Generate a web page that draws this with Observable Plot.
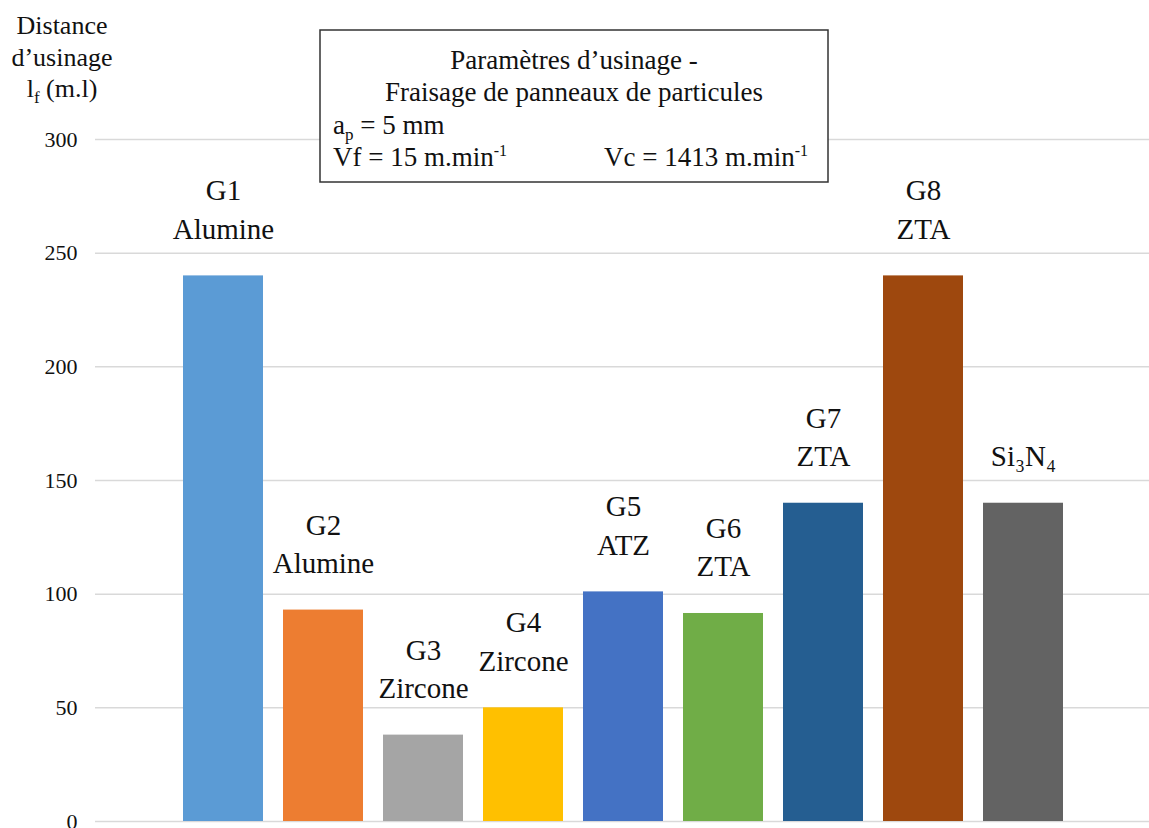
<!DOCTYPE html>
<html>
<head>
<meta charset="utf-8">
<script src="https://cdn.jsdelivr.net/npm/d3@7"></script>
<script src="https://cdn.jsdelivr.net/npm/@observablehq/plot@0.6"></script>
<style>
  html, body { margin: 0; padding: 0; background: #fff; }
  #chart svg { display: block; }
  #chart svg, #chart svg text { font-family: "Liberation Serif", "Times New Roman", serif !important; }
</style>
</head>
<body>
<div id="chart"></div>
<script>
const groups = ["G1", "G2", "G3", "G4", "G5", "G6", "G7", "G8", "Si3N4"];
const materials = ["Alumine", "Alumine", "Zircone", "Zircone", "ATZ", "ZTA", "ZTA", "ZTA", ""];
const distances = [240, 93, 38, 50, 101, 91.5, 140, 240, 140];
const colors = ["#5b9bd5", "#ed7d31", "#a5a5a5", "#ffc000", "#4472c4", "#70ad47", "#255e91", "#9e480e", "#636363"];
const yTicks = [0, 50, 100, 150, 200, 250, 300];
const displayNames = ["G1", "G2", "G3", "G4", "G5", "G6", "G7", "G8", "Si\u2083N\u2084"];

const data = groups.map((g, i) => ({
  group: g,
  value: distances[i],
  color: colors[i],
  label: materials[i] ? displayNames[i] + "\n" + materials[i] : displayNames[i]
}));

const svg = Plot.plot({
  width: 1149,
  height: 828,
  marginLeft: 95,
  marginRight: 0,
  marginTop: 0,
  marginBottom: 7,
  style: { background: "#fff", color: "#111" },
  x: { domain: groups, range: [169.6, 1076.4], paddingInner: 0.2, paddingOuter: 0.1, axis: null },
  y: { domain: [0, 300], range: [821, 139], axis: null },
  marks: [
    Plot.gridY(yTicks, { stroke: "#d9d9d9", strokeOpacity: 1, strokeWidth: 1.5 }),
    Plot.barY(data, { x: "group", y: "value", fill: "color" }),
    Plot.axisY(yTicks, { label: null, tickSize: 0, tickPadding: 18, fontSize: 22, textAnchor: "end", fill: "#111", tickFormat: d => String(d) }),
    Plot.text(data, {
      x: "group", y: "value", text: "label",
      lineAnchor: "bottom", dy: -37, lineHeight: 1.33,
      fontSize: 29, fill: "#111"
    })
  ]
});

document.getElementById("chart").appendChild(svg);

// Annotations with sub/superscripts
const s = d3.select(svg);

// Y axis title
const title = s.append("g").attr("font-size", 26).attr("fill", "#111").attr("text-anchor", "middle");
title.append("text").attr("x", 62).attr("y", 34).attr("text-anchor", "middle").text("Distance");
title.append("text").attr("x", 62).attr("y", 66).attr("text-anchor", "middle").text("d\u2019usinage");
const t3 = title.append("text").attr("x", 62).attr("y", 97).attr("text-anchor", "middle");
t3.append("tspan").text("l");
t3.append("tspan").attr("font-size", 17).attr("dy", 6).text("f");
t3.append("tspan").attr("dy", -6).text(" (m.l)");

// Parameters box
const box = s.append("g").attr("font-size", 27).attr("fill", "#111");
box.append("rect").attr("x", 320).attr("y", 30).attr("width", 508).attr("height", 152)
  .attr("fill", "#fff").attr("stroke", "#333").attr("stroke-width", 1.5);
box.append("text").attr("x", 574).attr("y", 69).attr("text-anchor", "middle").text("Param\u00e8tres d\u2019usinage -");
box.append("text").attr("x", 574).attr("y", 101).attr("text-anchor", "middle").text("Fraisage de panneaux de particules");
const ap = box.append("text").attr("x", 333).attr("y", 134).attr("text-anchor", "start");
ap.append("tspan").text("a");
ap.append("tspan").attr("font-size", 17).attr("dy", 6).text("p");
ap.append("tspan").attr("dy", -6).text(" = 5 mm");
const vf = box.append("text").attr("x", 333).attr("y", 166).attr("text-anchor", "start");
vf.append("tspan").text("Vf = 15 m.min");
vf.append("tspan").attr("font-size", 16).attr("dy", -10).text("-1");
const vc = box.append("text").attr("x", 808).attr("y", 166).attr("text-anchor", "end");
vc.append("tspan").text("Vc = 1413 m.min");
vc.append("tspan").attr("font-size", 16).attr("dy", -10).text("-1");
</script>
</body>
</html>
